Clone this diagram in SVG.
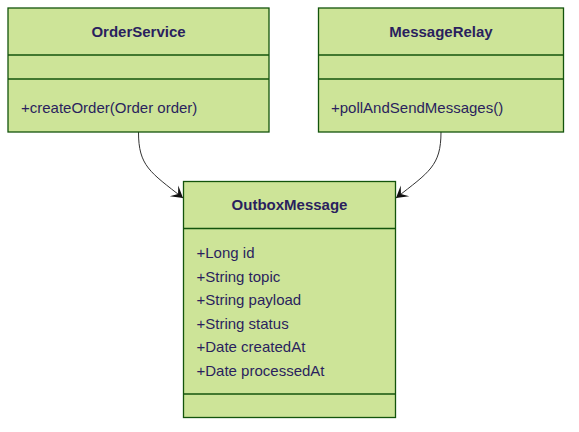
<svg xmlns="http://www.w3.org/2000/svg" width="579" height="432" viewBox="0 0 579 432">
<style>
.box{fill:#cde498;stroke:#13540c;stroke-width:1.3}
.div{stroke:#13540c;stroke-width:1.3}
.t{font-family:"Liberation Sans",Arial,sans-serif;font-size:15px;fill:#2a1f5e}
.title{font-weight:bold;text-anchor:middle}
.edge{fill:none;stroke:#333;stroke-width:1}
</style>
<defs>
<marker id="dep" markerUnits="userSpaceOnUse" markerWidth="14" markerHeight="16" viewBox="-11 -7 12 14" refX="0" refY="0" orient="auto">
<path d="M0,0 L-10,-6 L-5.5,0 L-10,6 Z" fill="#111"/>
</marker>
</defs>
<rect width="579" height="432" fill="#fff"/>
<g id="edges">
<path class="edge" d="M138.5,132 C138.5,166 150,172 183,198" marker-end="url(#dep)"/>
<path class="edge" d="M441,132 C441,166 429,172 396,198" marker-end="url(#dep)"/>
</g>
<g id="OrderService">
<rect class="box" x="8" y="8" width="261" height="124"/>
<line class="div" x1="8" y1="55" x2="269" y2="55"/>
<line class="div" x1="8" y1="79" x2="269" y2="79"/>
<text class="t title" x="138.5" y="37">OrderService</text>
<text class="t" x="21" y="113">+createOrder(Order order)</text>
</g>
<g id="MessageRelay">
<rect class="box" x="318.5" y="8" width="245" height="124"/>
<line class="div" x1="318.5" y1="55" x2="563.5" y2="55"/>
<line class="div" x1="318.5" y1="79" x2="563.5" y2="79"/>
<text class="t title" x="441" y="37">MessageRelay</text>
<text class="t" x="331" y="113">+pollAndSendMessages()</text>
</g>
<g id="OutboxMessage">
<rect class="box" x="183.5" y="181.5" width="212" height="236"/>
<line class="div" x1="183.5" y1="228.5" x2="395.5" y2="228.5"/>
<line class="div" x1="183.5" y1="394" x2="395.5" y2="394"/>
<text class="t title" x="289.5" y="210">OutboxMessage</text>
<text class="t" x="196.5" y="258">+Long id</text>
<text class="t" x="196.5" y="281.5">+String topic</text>
<text class="t" x="196.5" y="305">+String payload</text>
<text class="t" x="196.5" y="328.5">+String status</text>
<text class="t" x="196.5" y="352">+Date createdAt</text>
<text class="t" x="196.5" y="375.5">+Date processedAt</text>
</g>
</svg>
